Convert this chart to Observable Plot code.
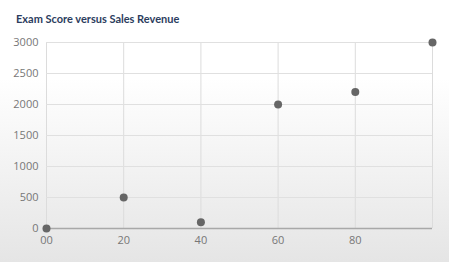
<!DOCTYPE html>
<html><head><meta charset="utf-8">
<script src="https://cdn.jsdelivr.net/npm/d3@7"></script>
<script src="https://cdn.jsdelivr.net/npm/@observablehq/plot@0.6"></script>
<style>
html,body{margin:0;padding:0;}
body{width:449px;height:262px;overflow:hidden;background:linear-gradient(to bottom,#ffffff 0%,#ffffff 30%,#e5e5e5 100%);font-family:Lato,sans-serif;}
#title{height:30px;box-sizing:border-box;padding:12px 0 0 16px;font:700 11px Lato,sans-serif;color:#2c3d5e;line-height:14px;}
svg{display:block;background:transparent!important;}
</style></head><body>
<div id="title">Exam Score versus Sales Revenue</div>
<div id="chart"></div>
<script>
const examScores = [0, 20, 40, 60, 80, 100];
const salesRevenue = [0, 500, 100, 2000, 2200, 3000];
const xTicks = [0, 20, 40, 60, 80];
const xTickLabels = ["00", "20", "40", "60", "80"];
const xGrid = [0, 20, 40, 60, 80, 100];
const yTicks = [0, 500, 1000, 1500, 2000, 2500, 3000];

const data = examScores.map((x, i) => ({x, y: salesRevenue[i]}));

const chart = Plot.plot({
  width: 449,
  height: 232,
  marginLeft: 46,
  marginRight: 17,
  marginTop: 12,
  marginBottom: 34,
  style: {background: "transparent", fontFamily: "'Open Sans', sans-serif", fontSize: "11px", color: "#777"},
  x: {domain: [0, 100]},
  y: {domain: [0, 3000]},
  marks: [
    Plot.gridX(xGrid, {stroke: "#dcdcdc", strokeOpacity: 1}),
    Plot.gridY(yTicks, {stroke: "#e0e0e0", strokeOpacity: 1}),
    Plot.axisX(xTicks, {tickSize: 0, tickPadding: 8, tickFormat: (d) => xTickLabels[xTicks.indexOf(d)], fill: "#777", label: null}),
    Plot.axisY(yTicks, {tickSize: 0, tickPadding: 8, tickFormat: (d) => String(d), fill: "#777", label: null}),
    Plot.ruleY([0], {stroke: "#a8a8a8", strokeWidth: 1.5}),
    Plot.dot(data, {x: "x", y: "y", r: 4, fill: "#666", stroke: "none"})
  ]
});
document.getElementById("chart").appendChild(chart);
</script>
</body></html>
